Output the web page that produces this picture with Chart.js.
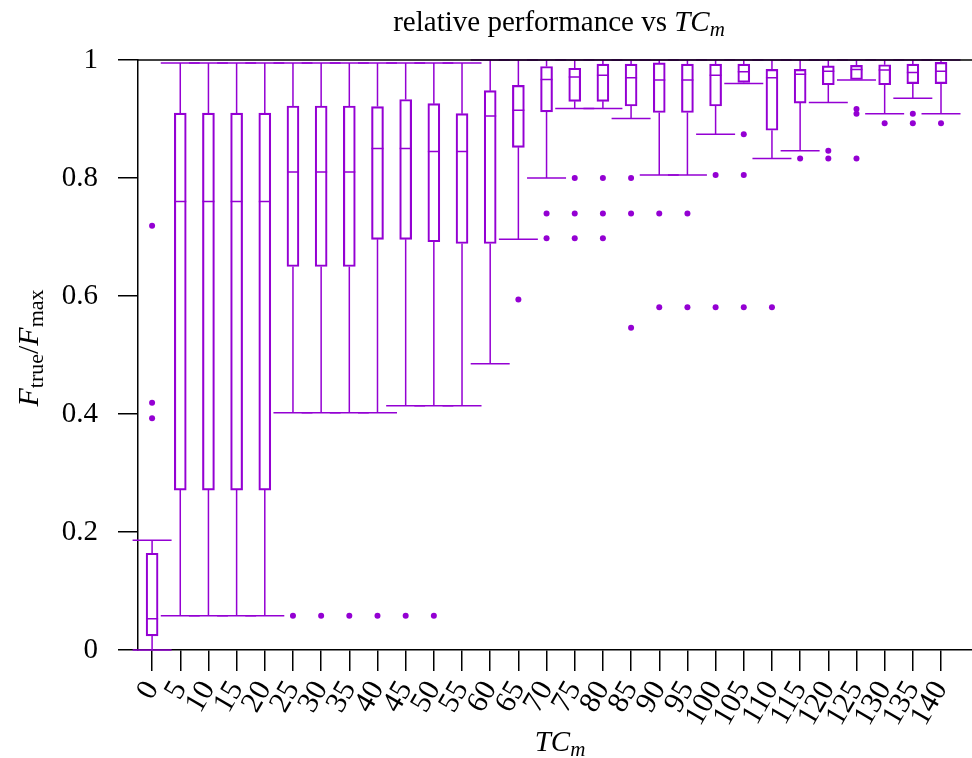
<!DOCTYPE html>
<html>
<head>
<meta charset="utf-8">
<script src="https://cdn.jsdelivr.net/npm/chart.js@4"></script>
<style>
  html, body { margin: 0; padding: 0; background: #fff; }
</style>
</head>
<body>
<canvas id="chart" width="972" height="758"></canvas>
<script>
// TC_m categories
const categories = [0, 5, 10, 15, 20, 25, 30, 35, 40, 45, 50, 55, 60, 65, 70,
                    75, 80, 85, 90, 95, 100, 105, 110, 115, 120, 125, 130, 135, 140];

// box plot statistics, one value per category
const whiskerLow  = [0.000, 0.058, 0.058, 0.058, 0.058, 0.402, 0.402, 0.402, 0.402, 0.414, 0.414, 0.414, 0.485, 0.696, 0.800,
                     0.918, 0.918, 0.901, 0.805, 0.805, 0.874, 0.960, 0.833, 0.846, 0.928, 0.966, 0.909, 0.935, 0.909];
const q1          = [0.024, 0.271, 0.271, 0.271, 0.271, 0.650, 0.650, 0.650, 0.696, 0.696, 0.692, 0.689, 0.689, 0.852, 0.912,
                     0.930, 0.930, 0.922, 0.911, 0.911, 0.922, 0.962, 0.881, 0.927, 0.958, 0.967, 0.958, 0.960, 0.960];
const median      = [0.053, 0.760, 0.760, 0.760, 0.760, 0.810, 0.810, 0.810, 0.850, 0.850, 0.845, 0.845, 0.905, 0.915, 0.967,
                     0.971, 0.974, 0.970, 0.966, 0.966, 0.974, 0.980, 0.970, 0.976, 0.981, 0.984, 0.983, 0.979, 0.981];
const q3          = [0.164, 0.910, 0.910, 0.910, 0.910, 0.922, 0.922, 0.922, 0.921, 0.933, 0.926, 0.909, 0.948, 0.957, 0.989,
                     0.986, 0.993, 0.993, 0.995, 0.993, 0.993, 0.993, 0.984, 0.984, 0.990, 0.991, 0.992, 0.993, 0.996];
const whiskerHigh = [0.186, 0.995, 0.995, 0.995, 0.995, 0.995, 0.995, 0.995, 0.995, 0.995, 0.995, 0.995, 1.000, 1.000, 1.000,
                     1.000, 1.000, 1.000, 1.000, 1.000, 1.000, 1.000, 1.000, 1.000, 1.000, 1.000, 1.000, 1.000, 1.000];

// outliers
const outlierCat = [0, 0, 0, 25, 30, 35, 40, 45, 50, 65, 70, 70, 75, 75, 75, 80, 80, 80, 85, 85, 85,
                    90, 90, 95, 95, 100, 100, 105, 105, 105, 110, 115, 120, 120, 125, 125, 125, 130, 135, 135, 140];
const outlierVal = [0.719, 0.419, 0.393, 0.058, 0.058, 0.058, 0.058, 0.058, 0.058, 0.594, 0.740, 0.698,
                    0.800, 0.740, 0.698, 0.800, 0.740, 0.698, 0.800, 0.740, 0.546,
                    0.740, 0.581, 0.740, 0.581, 0.805, 0.581, 0.874, 0.805, 0.581, 0.581,
                    0.833, 0.846, 0.833, 0.917, 0.909, 0.833, 0.893, 0.909, 0.893, 0.893];

// axis ticks
const xTicks = categories;
const yTicks = [0, 0.2, 0.4, 0.6, 0.8, 1];
const yTickLabels = ['0', '0.2', '0.4', '0.6', '0.8', '1'];

const purple = '#9400D3';
const serif = '"Liberation Serif", "Times New Roman", serif';

// whiskers, caps and medians
const boxParts = {
  id: 'boxParts',
  beforeDatasetsDraw(chart) {
    const { ctx, scales: { x, y } } = chart;
    const capHalf = 19.5, boxHalf = 6;
    ctx.save();
    ctx.strokeStyle = purple;
    ctx.lineWidth = 1.5;
    categories.forEach((c, i) => {
      const px = x.getPixelForValue(c);
      ctx.beginPath();
      // whiskers
      ctx.moveTo(px, y.getPixelForValue(whiskerLow[i]));
      ctx.lineTo(px, y.getPixelForValue(q1[i]));
      ctx.moveTo(px, y.getPixelForValue(q3[i]));
      ctx.lineTo(px, y.getPixelForValue(whiskerHigh[i]));
      // caps
      ctx.moveTo(px - capHalf, y.getPixelForValue(whiskerLow[i]));
      ctx.lineTo(px + capHalf, y.getPixelForValue(whiskerLow[i]));
      ctx.moveTo(px - capHalf, y.getPixelForValue(whiskerHigh[i]));
      ctx.lineTo(px + capHalf, y.getPixelForValue(whiskerHigh[i]));
      // median
      ctx.moveTo(px - boxHalf, y.getPixelForValue(median[i]));
      ctx.lineTo(px + boxHalf, y.getPixelForValue(median[i]));
      ctx.stroke();
    });
    ctx.restore();
  }
};

// top frame line and the titles with italics / subscripts
function drawRuns(ctx, runs, cx, cy) {
  let total = 0;
  runs.forEach(r => { ctx.font = r.font; r.w = ctx.measureText(r.text).width; total += r.w; });
  let xpos = cx - total / 2;
  runs.forEach(r => {
    ctx.font = r.font;
    ctx.fillText(r.text, xpos, cy + (r.dy || 0));
    xpos += r.w;
  });
}

const frameAndText = {
  id: 'frameAndText',
  afterDraw(chart) {
    const { ctx, chartArea } = chart;
    ctx.save();
    ctx.strokeStyle = '#000';
    ctx.lineWidth = 1.5;
    ctx.beginPath();
    ctx.moveTo(chartArea.left, chartArea.top);
    ctx.lineTo(chart.width, chartArea.top);
    ctx.stroke();

    ctx.fillStyle = '#000';
    ctx.textBaseline = 'alphabetic';
    ctx.textAlign = 'left';
    // title
    drawRuns(ctx, [
      { text: 'relative performance vs ', font: '29px ' + serif },
      { text: 'TC', font: 'italic 29px ' + serif },
      { text: 'm', font: 'italic 21px ' + serif, dy: 5 }
    ], 559, 31);
    // x axis title
    drawRuns(ctx, [
      { text: 'TC', font: 'italic 29px ' + serif },
      { text: 'm', font: 'italic 21px ' + serif, dy: 5 }
    ], 560, 751);
    // y axis title
    ctx.translate(38, 348);
    ctx.rotate(-Math.PI / 2);
    drawRuns(ctx, [
      { text: 'F', font: 'italic 30px ' + serif },
      { text: 'true', font: '22px ' + serif, dy: 5 },
      { text: '/', font: '30px ' + serif },
      { text: 'F', font: 'italic 30px ' + serif },
      { text: 'max', font: '22px ' + serif, dy: 5 }
    ], 0, 0);
    ctx.restore();
  }
};

new Chart(document.getElementById('chart'), {
  type: 'scatter',
  data: {
    datasets: [
      {
        type: 'bar',
        data: categories.map((c, i) => ({ x: c, y: [q1[i], q3[i]] })),
        backgroundColor: 'rgba(0,0,0,0)',
        borderColor: purple,
        borderWidth: 1.5,
        borderSkipped: false,
        barThickness: 12,
        grouped: false
      },
      {
        type: 'scatter',
        data: outlierCat.map((c, i) => ({ x: c, y: outlierVal[i] })),
        backgroundColor: purple,
        borderWidth: 0,
        pointRadius: 3
      }
    ]
  },
  options: {
    responsive: false,
    animation: false,
    layout: { autoPadding: false, padding: { top: 60, right: 0, left: 0, bottom: 0 } },
    plugins: { legend: { display: false }, tooltip: { enabled: false } },
    scales: {
      x: {
        type: 'linear',
        min: -2.5,
        max: 145.5,
        offset: false,
        afterBuildTicks: s => { s.ticks = xTicks.map(v => ({ value: v })); },
        afterFit: s => { s.height = 108; s.paddingLeft = 0; s.paddingRight = 0; },
        ticks: {
          autoSkip: false,
          minRotation: 60,
          maxRotation: 60,
          padding: 4,
          color: '#000',
          font: { family: serif, size: 30 },
          callback: v => String(v)
        },
        grid: { offset: false, drawOnChartArea: false, drawTicks: true, tickLength: 21, color: '#000', lineWidth: 1.5 },
        border: { display: true, color: '#000', width: 1.5 }
      },
      y: {
        type: 'linear',
        min: 0,
        max: 1,
        afterBuildTicks: s => { s.ticks = yTicks.map(v => ({ value: v })); },
        afterFit: s => { s.width = 138; s.paddingTop = 0; s.paddingBottom = 0; },
        ticks: {
          padding: 20,
          color: '#000',
          font: { family: serif, size: 29 },
          callback: v => yTickLabels[yTicks.indexOf(v)]
        },
        grid: { drawOnChartArea: false, drawTicks: true, tickLength: 20, color: '#000', lineWidth: 1.5 },
        border: { display: true, color: '#000', width: 1.5 }
      }
    }
  },
  plugins: [boxParts, frameAndText]
});
</script>
</body>
</html>
